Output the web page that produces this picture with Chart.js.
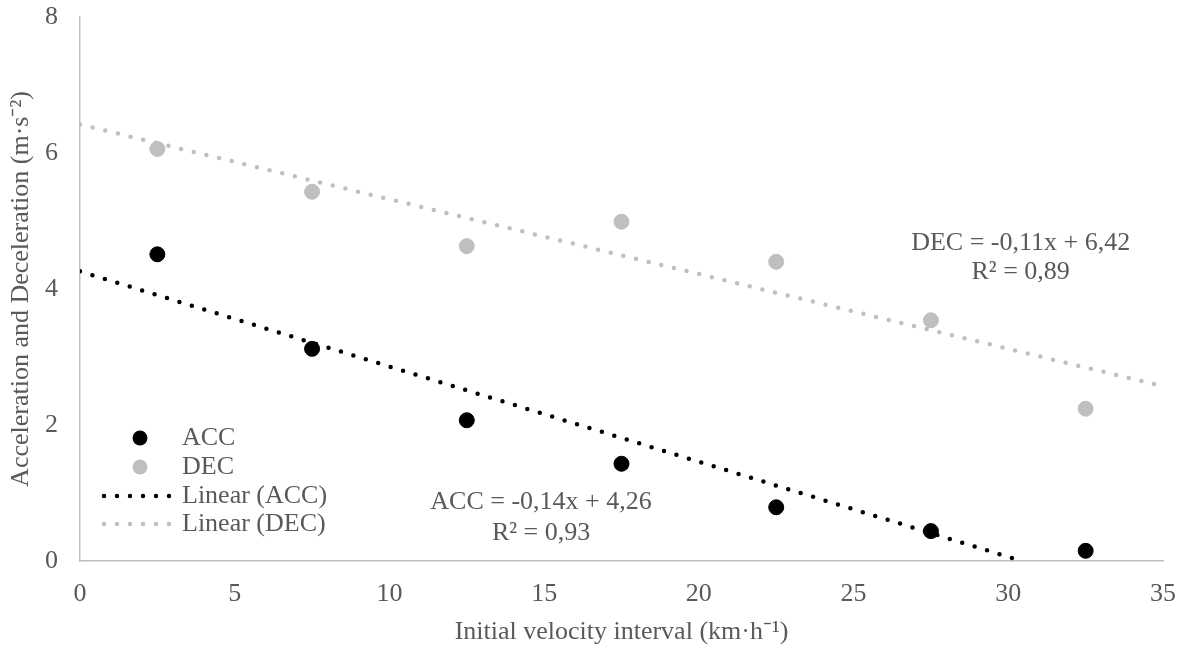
<!DOCTYPE html>
<html>
<head>
<meta charset="utf-8">
<script src="https://cdn.jsdelivr.net/npm/chart.js@4"></script>
<style>
  html, body { margin: 0; padding: 0; background: #fff; }
  #wrap { width: 1184px; height: 648px; }
</style>
</head>
<body>
<div id="wrap"><canvas id="myChart" width="1184" height="648"></canvas></div>
<script>
// velocity interval midpoints (km/h)
const velocity = [2.5, 7.5, 12.5, 17.5, 22.5, 27.5, 32.5];
const accValues = [4.51, 3.12, 2.07, 1.43, 0.79, 0.44, 0.15];
const decValues = [6.06, 5.43, 4.63, 4.99, 4.40, 3.54, 2.24];

const accTrend = [[0, 4.26], [30.43, 0]];
const decTrend = [[0, 6.42], [35, 2.57]];

const xTicks = [0, 5, 10, 15, 20, 25, 30, 35];
const yTicks = [0, 2, 4, 6, 8];

// equation labels: [text, x, y] in data units
const accLabel = [["ACC = -0,14x + 4,26", 14.9, 0.87], ["R² = 0,93", 14.9, 0.41]];
const decLabel = [["DEC = -0,11x + 6,42", 30.4, 4.68], ["R² = 0,89", 30.4, 4.25]];

const BLACK = '#000000';
const GREY = '#bfbfbf';
const TEXT = '#595959';
const FONT = '"Liberation Serif", "Times New Roman", serif';
const FSIZE = 26;

function toPoints(xs, ys)
{
    let pts = [];
    for (let i = 0; i < xs.length; i += 1)
    {
        pts.push({x: xs[i], y: ys[i]});
    }
    return pts;
}

function pairsToPoints(pairs)
{
    return pairs.map(p => ({x: p[0], y: p[1]}));
}

// draws the dotted style used by Excel trend lines
function dottedLine(ctx, x1, y1, x2, y2, color)
{
    ctx.save();
    ctx.strokeStyle = color;
    ctx.lineWidth = 4.5;
    ctx.lineCap = 'round';
    ctx.setLineDash([0, 13]);
    ctx.beginPath();
    ctx.moveTo(x1, y1);
    ctx.lineTo(x2, y2);
    ctx.stroke();
    ctx.restore();
}

const extrasPlugin = {
    id: 'extras',
    afterDatasetsDraw(chart)
    {
        const ctx = chart.ctx;
        const xs = chart.scales.x;
        const ys = chart.scales.y;

        // equations
        ctx.save();
        ctx.fillStyle = TEXT;
        ctx.font = FSIZE + 'px ' + FONT;
        ctx.textAlign = 'center';
        ctx.textBaseline = 'middle';
        accLabel.concat(decLabel).forEach(l => {
            ctx.fillText(l[0], xs.getPixelForValue(l[1]), ys.getPixelForValue(l[2]));
        });

        // legend, inside the plot at lower left
        const left = chart.chartArea.left;
        const rows = [
            {label: 'ACC', kind: 'point', color: BLACK, y: 438},
            {label: 'DEC', kind: 'point', color: GREY, y: 467},
            {label: 'Linear (ACC)', kind: 'line', color: BLACK, y: 496},
            {label: 'Linear (DEC)', kind: 'line', color: GREY, y: 524}
        ];
        ctx.textAlign = 'left';
        rows.forEach(r => {
            if (r.kind == 'point')
            {
                ctx.beginPath();
                ctx.fillStyle = r.color;
                ctx.arc(left + 60, r.y, 7.5, 0, Math.PI * 2);
                ctx.fill();
            }
            else
            {
                dottedLine(ctx, left + 24, r.y, left + 93, r.y, r.color);
            }
            ctx.fillStyle = TEXT;
            ctx.fillText(r.label, left + 102, r.y);
        });
        ctx.restore();
    }
};

const ctx = document.getElementById('myChart').getContext('2d');
const myChart = new Chart(ctx, {
    type: 'scatter',
    data: {
        datasets: [
            {
                label: 'Linear (ACC)',
                data: pairsToPoints(accTrend),
                showLine: true,
                borderColor: BLACK,
                borderWidth: 4.5,
                borderDash: [0, 13],
                borderCapStyle: 'round',
                pointRadius: 0,
                order: 3
            },
            {
                label: 'Linear (DEC)',
                data: pairsToPoints(decTrend),
                showLine: true,
                borderColor: GREY,
                borderWidth: 4.5,
                borderDash: [0, 13],
                borderCapStyle: 'round',
                pointRadius: 0,
                order: 4
            },
            {
                label: 'ACC',
                data: toPoints(velocity, accValues),
                backgroundColor: BLACK,
                borderColor: BLACK,
                pointRadius: 7.5,
                order: 1
            },
            {
                label: 'DEC',
                data: toPoints(velocity, decValues),
                backgroundColor: GREY,
                borderColor: GREY,
                pointRadius: 7.5,
                order: 2
            }
        ]
    },
    options: {
        responsive: false,
        animation: false,
        devicePixelRatio: 1,
        layout: { padding: { top: 17, right: 21, left: 0, bottom: 0 } },
        plugins: {
            legend: { display: false },
            tooltip: { enabled: false }
        },
        scales: {
            x: {
                type: 'linear',
                min: 0,
                max: 35,
                afterBuildTicks: (scale) => { scale.ticks = xTicks.map(v => ({value: v})); },
                afterFit: (scale) => {
                    scale.height = 87;
                    scale.paddingLeft = 0;
                    scale.paddingRight = 0;
                },
                grid: { display: false, drawTicks: false },
                border: { display: true, color: GREY, width: 1.5 },
                ticks: { color: TEXT, padding: 18, font: { family: FONT, size: FSIZE } },
                title: {
                    display: true,
                    text: 'Initial velocity interval (km·h⁻¹)',
                    color: TEXT,
                    padding: { top: 4, bottom: 0 },
                    font: { family: FONT, size: FSIZE }
                }
            },
            y: {
                min: 0,
                max: 8,
                afterBuildTicks: (scale) => { scale.ticks = yTicks.map(v => ({value: v})); },
                afterFit: (scale) => {
                    scale.width = 80;
                    scale.paddingTop = 0;
                    scale.paddingBottom = 0;
                },
                grid: { display: false, drawTicks: false },
                border: { display: true, color: GREY, width: 1.5 },
                ticks: { color: TEXT, padding: 22, font: { family: FONT, size: FSIZE } },
                title: {
                    display: true,
                    text: 'Acceleration and Deceleration (m·s⁻²)',
                    color: TEXT,
                    padding: { top: 6, bottom: 0 },
                    font: { family: FONT, size: FSIZE }
                }
            }
        }
    },
    plugins: [extrasPlugin]
});
</script>
</body>
</html>
